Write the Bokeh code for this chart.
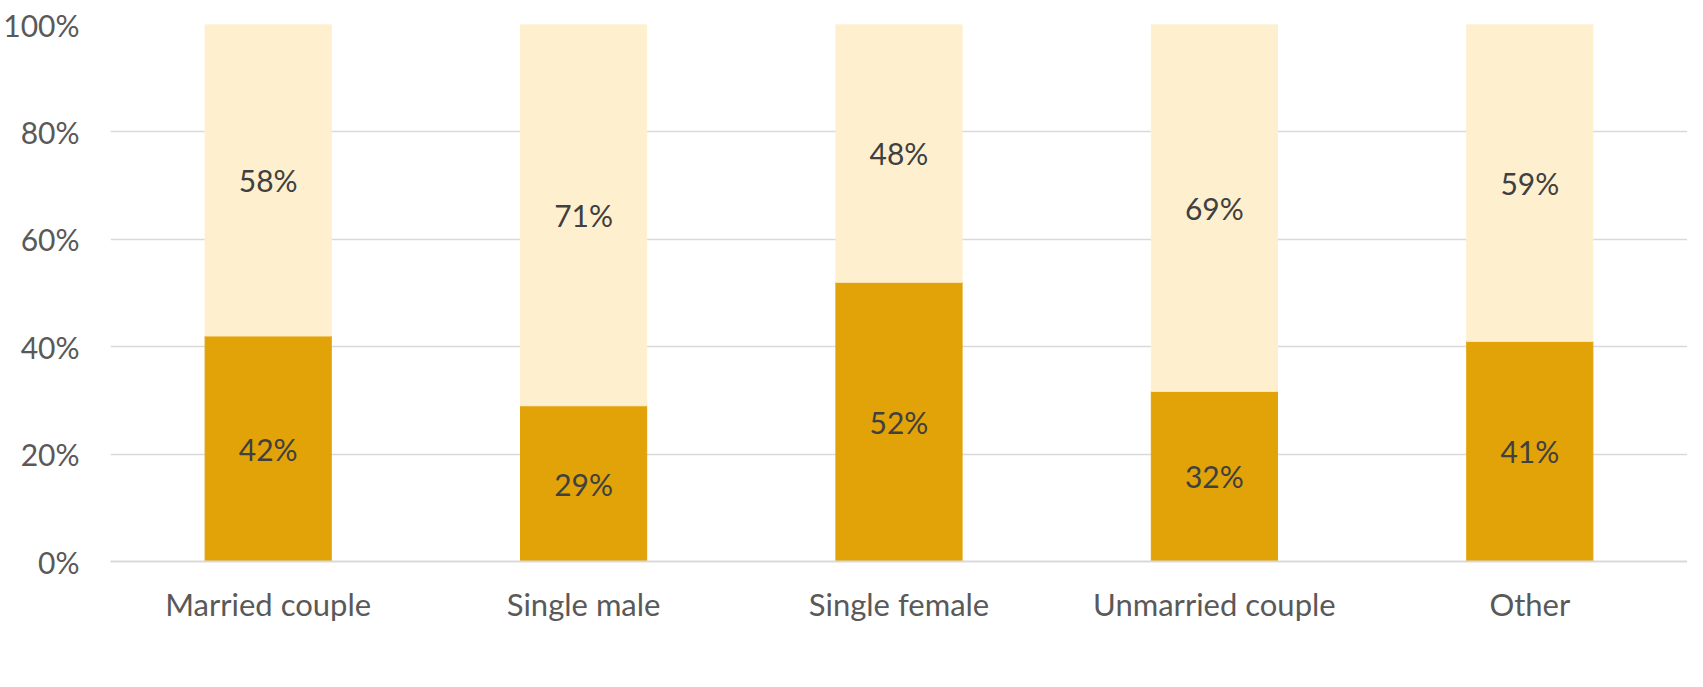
from bokeh.plotting import figure
from bokeh.models import ColumnDataSource, LabelSet, Legend, LegendItem, FactorRange, Range1d
from bokeh.core.properties import value
from bokeh.embed import file_html
from bokeh.resources import INLINE

categories = ["Married couple", "Single male", "Single female", "Unmarried couple", "Other"]
hire = [42, 29, 52, 32, 41]
diy = [58, 71, 48, 69, 59]
series_names = ["Hire Profesional", "D.I.Y."]
y_ticks = [0, 20, 40, 60, 80, 100]
y_tick_labels = ["0%", "20%", "40%", "60%", "80%", "100%"]

colors = ["#E1A308", "#FEF0CE"]
FONT = "Lato"

totals = [h + d for h, d in zip(hire, diy)]
hire_s = [h / t * 100 for h, t in zip(hire, totals)]
diy_s = [d / t * 100 for d, t in zip(diy, totals)]

src = ColumnDataSource(dict(
    cat=categories,
    hire_s=hire_s,
    diy_s=diy_s,
    hire_mid=[h / 2 for h in hire_s],
    diy_mid=[h + d / 2 for h, d in zip(hire_s, diy_s)],
    hire_lbl=[f"{v}%" for v in hire],
    diy_lbl=[f"{v}%" for v in diy],
))

p = figure(x_range=FactorRange(*categories, range_padding=0), y_range=Range1d(0, 100),
           width=1687, height=687, output_backend="svg", toolbar_location=None,
           min_border_left=108, min_border_right=0, min_border_top=24, min_border_bottom=126)

rs = p.vbar_stack(["hire_s", "diy_s"], x="cat", width=0.4, color=colors, source=src)

p.outline_line_color = None
p.background_fill_color = "white"
p.border_fill_color = "white"
p.xgrid.visible = False
p.ygrid.grid_line_color = "#D9D9D9"
p.ygrid.grid_line_width = 1.5

p.yaxis.ticker = y_ticks
p.yaxis.major_label_overrides = {t: l for t, l in zip(y_ticks, y_tick_labels)}
p.yaxis.axis_line_color = None
p.yaxis.major_tick_line_color = None
p.yaxis.major_tick_out = 0
p.yaxis.major_tick_in = 0
p.yaxis.minor_tick_line_color = None
p.yaxis.major_label_text_font = FONT
p.yaxis.major_label_text_font_size = "30px"
p.yaxis.major_label_text_color = "#595959"
p.yaxis.major_label_standoff = 31

p.xaxis.axis_line_color = "#D9D9D9"
p.xaxis.axis_line_width = 2
p.xaxis.major_tick_line_color = None
p.xaxis.major_tick_out = 0
p.xaxis.major_tick_in = 0
p.xaxis.minor_tick_line_color = None
p.xaxis.major_label_text_font = FONT
p.xaxis.major_label_text_font_size = "31px"
p.xaxis.major_label_text_color = "#595959"
p.xaxis.major_label_standoff = 23

for ycol, tcol in [("hire_mid", "hire_lbl"), ("diy_mid", "diy_lbl")]:
    p.add_layout(LabelSet(x="cat", y=ycol, text=tcol, source=src,
                          text_align="center", text_baseline="middle",
                          text_font=value(FONT), text_font_size=value("30px"),
                          text_color="#404040"))

legend = Legend(items=[LegendItem(label=series_names[0], renderers=[rs[0]]),
                       LegendItem(label=series_names[1], renderers=[rs[1]])],
                orientation="horizontal", location=(564, -124),
                glyph_width=19, glyph_height=19, label_standoff=9, spacing=37,
                padding=0, margin=0, border_line_color=None, background_fill_alpha=0,
                label_text_font=FONT, label_text_font_size="30px", label_text_color="#595959")
p.add_layout(legend)

open("out.html", "w").write(file_html(p, INLINE))
